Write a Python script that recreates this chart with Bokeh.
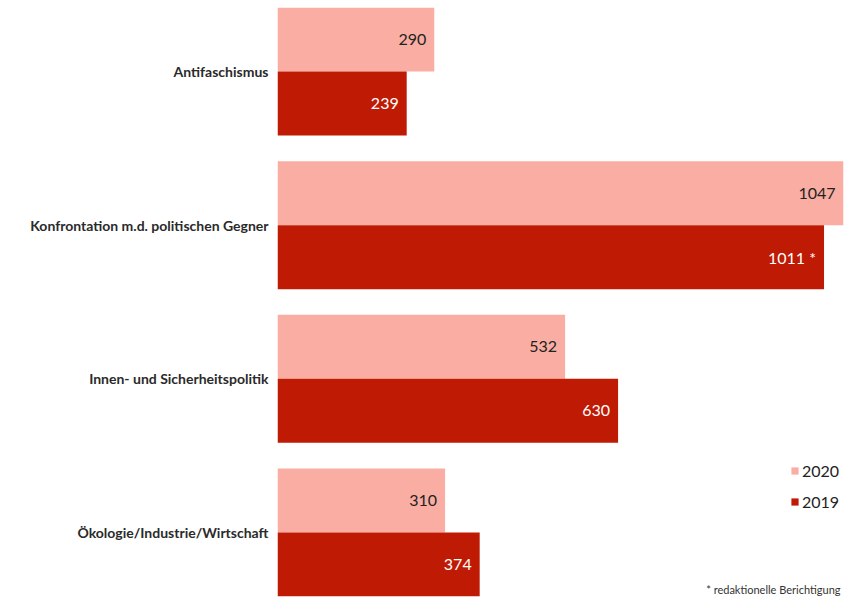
from bokeh.plotting import figure
from bokeh.models import (ColumnDataSource, FactorRange, Range1d, Legend, LegendItem, Label)
from bokeh.transform import dodge
from bokeh.core.properties import value
from bokeh.embed import file_html
from bokeh.resources import INLINE

categories = ["Antifaschismus", "Konfrontation m.d. politischen Gegner",
              "Innen- und Sicherheitspolitik", "Ökologie/Industrie/Wirtschaft"]
v2020 = [290, 1047, 532, 310]
v2019 = [239, 1011, 630, 374]
notes2019 = ["", " *", "", ""]
years = ["2020", "2019"]
footnote = "* redaktionelle Berichtigung"

C2020 = "#FAAEA3"
C2019 = "#BF1A04"

src = ColumnDataSource(dict(
    cat=categories,
    v2020=v2020,
    v2019=v2019,
    l2020=[str(v) for v in v2020],
    l2019=[str(v) + n for v, n in zip(v2019, notes2019)],
))

p = figure(width=850, height=598, output_backend="svg", toolbar_location=None,
           y_range=FactorRange(*reversed(categories), factor_padding=0.2, range_padding=0),
           x_range=Range1d(0, 1047),
           min_border_left=277, min_border_right=7, min_border_top=7, min_border_bottom=2)

r20 = p.hbar(y=dodge("cat", 0.25, range=p.y_range), right="v2020", left=0, height=0.5,
             source=src, fill_color=C2020, line_color=None)
r19 = p.hbar(y=dodge("cat", -0.25, range=p.y_range), right="v2019", left=0, height=0.5,
             source=src, fill_color=C2019, line_color=None)

p.text(x="v2020", y=dodge("cat", 0.25, range=p.y_range), text="l2020", source=src,
       text_align="right", text_baseline="middle", x_offset=-8,
       text_font=value("Lato"), text_font_size="16px", text_color="#222222")
p.text(x="v2019", y=dodge("cat", -0.25, range=p.y_range), text="l2019", source=src,
       text_align="right", text_baseline="middle", x_offset=-8,
       text_font=value("Lato"), text_font_size="16px", text_color="#ffffff")

p.xaxis.visible = False
p.xgrid.visible = False
p.ygrid.visible = False
p.outline_line_color = None
ax = p.yaxis[0]
ax.axis_line_color = None
ax.major_tick_line_color = None
ax.minor_tick_line_color = None
ax.major_tick_out = 0
ax.major_tick_in = 0
ax.major_label_standoff = 9
ax.major_label_text_font = "Lato"
ax.major_label_text_font_style = "bold"
ax.major_label_text_font_size = "14px"
ax.major_label_text_color = "#2a2a2a"

legend = Legend(items=[LegendItem(label=years[0], renderers=[r20]),
                       LegendItem(label=years[1], renderers=[r19])],
                location=(513, 85), orientation="vertical",
                glyph_width=9, glyph_height=9, label_text_font="Lato",
                label_text_font_size="16px", label_text_color="#222222",
                spacing=12, padding=0, margin=0, label_standoff=3,
                border_line_color=None, background_fill_alpha=0)
p.add_layout(legend)

p.add_layout(Label(x=563, y=1, x_units="screen", y_units="screen", text=footnote,
                   text_align="right", text_font="Lato", text_font_size="11px",
                   text_color="#333333"))

open("out.html", "w").write(file_html(p, INLINE))
